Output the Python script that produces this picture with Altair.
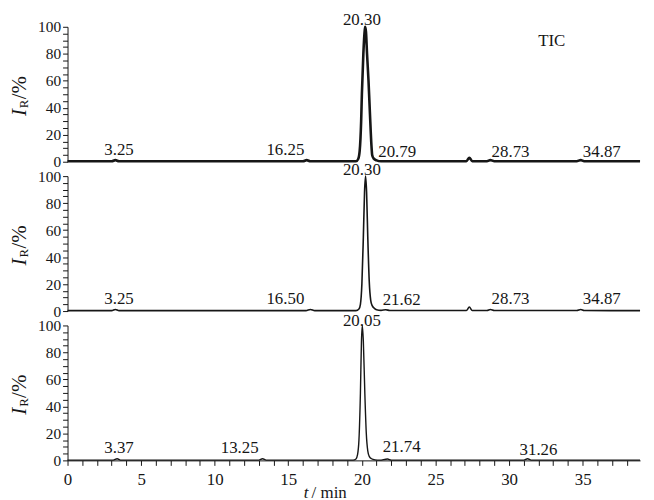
import altair as alt
import pandas as pd

# ---------------- data ----------------
# Panel 1: TIC
t1 = [0, 3.0, 3.25, 3.5, 10.0, 16.0, 16.25, 16.5, 19.6, 19.75, 19.85, 19.95, 20.0, 20.1,
      20.2, 20.23, 20.28, 20.35, 20.45, 20.55, 20.65, 20.7, 20.79, 21.0, 21.3,
      27.1, 27.3, 27.5, 28.5, 28.73, 29.0, 34.6, 34.87, 35.1, 38.9]
i1 = [0.3, 0.3, 1.2, 0.3, 0.3, 0.3, 1.2, 0.3, 0.3, 2, 8, 30, 50, 80,
      98, 100, 96, 80, 60, 35, 12, 5, 2.5, 1, 0.3,
      0.4, 3, 0.4, 0.4, 1.2, 0.4, 0.4, 1.2, 0.4, 0.3]

# Panel 2
t2 = [0, 3.0, 3.25, 3.5, 10.0, 16.2, 16.5, 16.8, 19.6, 19.8, 19.9, 20.0, 20.1, 20.18,
      20.25, 20.32, 20.4, 20.5, 20.6, 20.7, 20.85, 21.0, 21.3, 21.62, 21.9,
      27.1, 27.3, 27.5, 28.5, 28.73, 29.0, 34.6, 34.87, 35.1, 38.9]
i2 = [0.3, 0.3, 1.2, 0.3, 0.3, 0.3, 1.2, 0.3, 0.3, 1.5, 5, 20, 55, 88,
      100, 88, 55, 22, 8, 4, 2, 1, 0.5, 1.0, 0.4,
      0.4, 3, 0.4, 0.4, 1.2, 0.4, 0.4, 1.2, 0.4, 0.3]

# Panel 3
t3 = [0, 3.1, 3.37, 3.6, 10.0, 13.0, 13.25, 13.5, 19.4, 19.6, 19.7, 19.8, 19.9, 19.97,
      20.03, 20.1, 20.2, 20.3, 20.4, 20.5, 20.65, 20.9, 21.2, 21.74, 22.0,
      31.0, 31.26, 31.5, 38.9]
i3 = [0.2, 0.2, 1.2, 0.2, 0.2, 0.2, 1.2, 0.2, 0.2, 1, 4, 15, 50, 88,
      100, 88, 50, 20, 7, 3, 1.2, 0.4, 0.2, 1.0, 0.2,
      0.2, 1.2, 0.2, 0.2]

# Peak annotations: text, x (min), y (%)
lab1_text = ["3.25", "16.25", "20.30", "20.79", "28.73", "34.87", "TIC"]
lab1_x = [3.5, 14.8, 20.0, 22.4, 30.1, 36.3, 32.9]
lab1_y = [8.5, 8.5, 105, 7.5, 7.5, 7.5, 89.5]

lab2_text = ["3.25", "16.50", "20.30", "21.62", "28.73", "34.87"]
lab2_x = [3.5, 14.8, 20.0, 22.7, 30.1, 36.3]
lab2_y = [9.0, 9.0, 104.5, 8.0, 9.0, 9.0]

lab3_text = ["3.37", "13.25", "20.05", "21.74", "31.26"]
lab3_x = [3.5, 11.7, 20.0, 22.7, 32.0]
lab3_y = [9.0, 9.0, 103, 10.0, 8.0]

x_ticks = list(range(0, 39))
y_ticks = list(range(0, 101, 5))

# ---------------- chart ----------------
XMAX = 38.9
W = 577
H = 136
FONT = "Liberation Serif"
INK = "#161616"


def panel(t, inten, lt, lx, ly, sw, bottom):
    df = pd.DataFrame({"t": t, "i": inten})
    if bottom:
        xaxis = alt.Axis(values=x_ticks, tickCount=200, title=None, format="d",
                         labelExpr="datum.value % 5 === 0 ? datum.label : ''",
                         tickSize=5, labelPadding=6, labelFont=FONT, labelFontSize=17,
                         labelColor=INK, domainColor=INK, tickColor=INK,
                         labelFlush=False, labelOverlap=False, grid=False)
    else:
        xaxis = None
    xs = alt.Scale(domain=[0, XMAX], nice=False)
    ys = alt.Scale(domain=[0, 100], nice=False)
    x = alt.X("t:Q", scale=xs, axis=xaxis)
    y = alt.Y("i:Q", scale=ys,
              axis=alt.Axis(values=y_ticks, tickCount=200, title=None, format="d",
                            labelExpr="datum.value % 20 === 0 ? datum.label : ''",
                            tickSize=5, labelPadding=2, labelFont=FONT,
                            labelFontSize=15.5, labelColor=INK, domainColor=INK,
                            tickColor=INK, labelOverlap=False, labelFlush=False,
                            grid=False))
    line = alt.Chart(df).mark_line(color=INK, strokeWidth=sw, interpolate="monotone").encode(x=x, y=y)
    ldf = pd.DataFrame({"text": lt, "t": lx, "i": ly})
    txt = alt.Chart(ldf).mark_text(font=FONT, fontSize=17, color=INK, baseline="middle",
                                   align="center").encode(
        x=alt.X("t:Q", scale=xs), y=alt.Y("i:Q", scale=ys), text="text:N")
    one = pd.DataFrame({"a": [0]})
    yt_I = alt.Chart(one).mark_text(text="I", font=FONT, fontStyle="italic", fontSize=21,
                                    angle=270, align="left", baseline="middle", color=INK).encode(
        x=alt.value(-48), y=alt.value(90))
    yt_R = alt.Chart(one).mark_text(text="R", font=FONT, fontSize=13,
                                    angle=270, align="left", baseline="middle", color=INK).encode(
        x=alt.value(-44), y=alt.value(82))
    yt_p = alt.Chart(one).mark_text(text="/%", font=FONT, fontSize=21,
                                    angle=270, align="left", baseline="middle", color=INK).encode(
        x=alt.value(-48), y=alt.value(73))
    layers = [line, txt, yt_I, yt_R, yt_p]
    if bottom:
        xt_t = alt.Chart(one).mark_text(text="t", font=FONT, fontStyle="italic", fontSize=17,
                                        align="left", baseline="alphabetic", color=INK).encode(
            x=alt.value(238), y=alt.value(H + 38))
        xt_m = alt.Chart(one).mark_text(text="/ min", font=FONT, fontSize=17,
                                        align="left", baseline="alphabetic", color=INK).encode(
            x=alt.value(246), y=alt.value(H + 38))
        layers += [xt_t, xt_m]
    return alt.layer(*layers).properties(width=W, height=H)


chart = alt.vconcat(
    panel(t1, i1, lab1_text, lab1_x, lab1_y, 2.6, False),
    panel(t2, i2, lab2_text, lab2_x, lab2_y, 1.6, False),
    panel(t3, i3, lab3_text, lab3_x, lab3_y, 1.4, True),
    spacing=14.5,
    bounds="flush",
).properties(
    padding={"left": 1, "top": 1, "right": 0, "bottom": 0},
    background="white",
).configure_view(stroke=None)

chart.save("out.html", embed_options={"renderer": "svg", "actions": False})
